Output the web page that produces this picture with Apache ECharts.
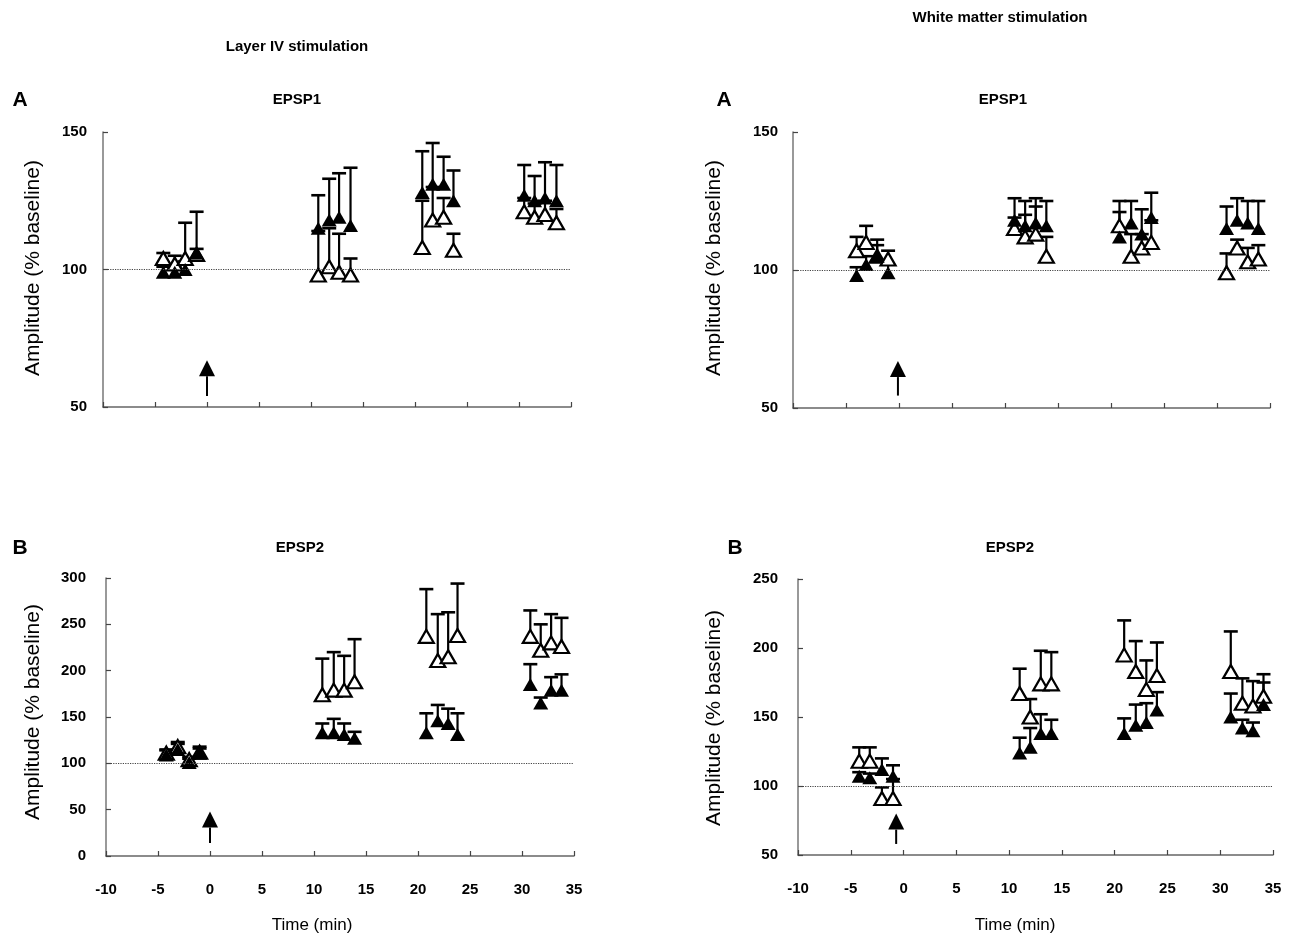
<!DOCTYPE html>
<html>
<head>
<meta charset="utf-8">
<script src="https://cdn.jsdelivr.net/npm/echarts@6/dist/echarts.min.js"></script>
<style>
  html, body { margin: 0; padding: 0; background: #fff; }
  #chart { width: 1289px; height: 940px; }
</style>
</head>
<body>
<div id="chart"></div>
<script>
// Layer IV stimulation, EPSP1
const l4e1Time = [-4.2, -3.1, -2.1, -1.0, 10.7, 11.75, 12.7, 13.8, 20.7, 21.7, 22.75, 23.7, 30.5, 31.5, 32.5, 33.6];
const l4e1Filled = [99, 99, 100, 106, 115, 118, 119, 116, 128, 131, 131, 125, 127, 125, 126, 125];
const l4e1FilledErr = [2, 2, 3, 15, 12, 15, 16, 21, 15, 15, 10, 11, 11, 9, 13, 13];
const l4e1Open = [104, 102, 104, 105.5, 98, 101, 99, 98, 108, 118, 119, 107, 121, 119, 120, 117];
const l4e1OpenErr = [2, 3, 13, 2, 16, 14, 14, 6, 17, 12, 7, 6, 5, 5, 5, 5];
const l4e1Arrow = [0, 67, 54];

// White matter stimulation, EPSP1
const wmE1Time = [-4.0, -3.1, -2.06, -1.03, 10.9, 11.9, 12.9, 13.9, 20.8, 21.9, 22.9, 23.8, 30.9, 31.9, 32.9, 33.9];
const wmE1Filled = [98, 102, 105, 99, 118, 116, 117, 116, 112, 117, 113, 119, 115, 118, 117, 115];
const wmE1FilledErr = [3, 3, 6, 3, 8, 9, 9, 9, 9, 8, 9, 9, 8, 8, 8, 10];
const wmE1Open = [107, 110, 105, 104, 115, 112, 113, 105, 116, 105, 108, 110, 99, 108, 103, 104];
const wmE1OpenErr = [5, 6, 4, 3, 4, 8, 10, 7, 9, 8, 5, 8, 7, 3, 5, 5];
const wmE1Arrow = [-0.1, 67, 54.5];

// Layer IV stimulation, EPSP2
const l4e2Time = [-4.2, -3.1, -2.0, -1.0, 10.8, 11.9, 12.9, 13.9, 20.8, 21.9, 22.9, 23.8, 30.8, 31.8, 32.8, 33.8];
const l4e2Filled = [109, 115, 101, 111, 133, 133, 131, 127, 133, 146, 143, 131, 185, 165, 179, 179];
const l4e2FilledErr = [5, 6, 4, 7, 10, 15, 12, 7, 21, 17, 16, 23, 22, 6, 14, 17];
const l4e2Open = [111, 118, 104, 112, 174, 179, 179, 188, 237, 211, 215, 238, 237, 222, 230, 226];
const l4e2OpenErr = [4, 5, 3, 4, 39, 41, 37, 46, 51, 50, 48, 56, 28, 28, 31, 31];
const l4e2Arrow = [0, 48, 14];

// White matter stimulation, EPSP2
const wmE2Time = [-4.2, -3.2, -2.05, -1.0, 11.0, 12.0, 13.0, 14.0, 20.9, 22.0, 23.0, 24.0, 31.0, 32.1, 33.1, 34.1];
const wmE2Filled = [107, 106, 112, 107, 124, 128, 138, 138, 138, 144, 146, 155, 150, 142, 140, 159];
const wmE2FilledErr = [3, 3, 8, 8, 11, 14, 14, 10, 11, 15, 14, 13, 17, 6, 6, 16];
const wmE2Open = [118, 118, 91, 91, 167, 150, 174, 174, 195, 183, 170, 180, 183, 160, 158, 165];
const wmE2OpenErr = [10, 10, 8, 14, 18, 13, 24, 23, 25, 22, 21, 24, 29, 18, 18, 16];
const wmE2Arrow = [-0.7, 80, 58];

const baseline = 100;
const font = "'Liberation Sans', Arial, sans-serif";

const panels = [
  { grid: { left: 103, top: 132, width: 468, height: 275 }, yMin: 50, yMax: 150, xLabels: false,
    time: l4e1Time, filled: l4e1Filled, filledErr: l4e1FilledErr, open: l4e1Open, openErr: l4e1OpenErr, arrow: l4e1Arrow, labelMargin: 16 },
  { grid: { left: 793, top: 132, width: 477, height: 276 }, yMin: 50, yMax: 150, xLabels: false,
    time: wmE1Time, filled: wmE1Filled, filledErr: wmE1FilledErr, open: wmE1Open, openErr: wmE1OpenErr, arrow: wmE1Arrow, labelMargin: 15 },
  { grid: { left: 106, top: 578, width: 468, height: 278 }, yMin: 0, yMax: 300, xLabels: true,
    time: l4e2Time, filled: l4e2Filled, filledErr: l4e2FilledErr, open: l4e2Open, openErr: l4e2OpenErr, arrow: l4e2Arrow, labelMargin: 20 },
  { grid: { left: 798, top: 579, width: 475, height: 276 }, yMin: 50, yMax: 250, xLabels: true,
    time: wmE2Time, filled: wmE2Filled, filledErr: wmE2FilledErr, open: wmE2Open, openErr: wmE2OpenErr, arrow: wmE2Arrow, labelMargin: 20 }
];

function renderErr(params, api) {
  const lo = api.coord([api.value(0), api.value(1)]);
  const hi = api.coord([api.value(0), api.value(2)]);
  const w = 7;
  return {
    type: 'group',
    children: [
      { type: 'line', shape: { x1: lo[0], y1: lo[1], x2: hi[0], y2: hi[1] }, style: { stroke: '#000', lineWidth: 2.2 } },
      { type: 'line', shape: { x1: hi[0] - w, y1: hi[1], x2: hi[0] + w, y2: hi[1] }, style: { stroke: '#000', lineWidth: 2.6 } }
    ]
  };
}

function renderArrow(params, api) {
  const tip = api.coord([api.value(0), api.value(1)]);
  const base = api.coord([api.value(0), api.value(2)]);
  const hw = 8, hh = 16;
  return {
    type: 'group',
    children: [
      { type: 'line', shape: { x1: base[0], y1: base[1], x2: tip[0], y2: tip[1] + hh }, style: { stroke: '#000', lineWidth: 2 } },
      { type: 'polygon', shape: { points: [[tip[0], tip[1]], [tip[0] - hw, tip[1] + hh], [tip[0] + hw, tip[1] + hh]] }, style: { fill: '#000' } }
    ]
  };
}

const grid = [], xAxis = [], yAxis = [], series = [];

panels.forEach((p, i) => {
  grid.push(p.grid);
  xAxis.push({
    gridIndex: i, type: 'value', min: -10, max: 35, interval: 5,
    axisLine: { onZero: false, lineStyle: { color: '#666', width: 1.5 } },
    axisTick: { inside: true, length: 5, lineStyle: { color: '#444', width: 1.2 } },
    axisLabel: { show: p.xLabels, margin: 26, color: '#000', fontFamily: font, fontWeight: 'bold', fontSize: 15 },
    splitLine: { show: false }
  });
  yAxis.push({
    gridIndex: i, type: 'value', min: p.yMin, max: p.yMax, interval: 50,
    axisLine: { show: true, onZero: false, lineStyle: { color: '#777', width: 1.5 } },
    axisTick: { show: true, inside: true, length: 5, lineStyle: { color: '#444', width: 1.2 } },
    axisLabel: { margin: p.labelMargin, color: '#000', fontFamily: font, fontWeight: 'bold', fontSize: 15 },
    splitLine: { show: false }
  });

  const errData = (vals, errs) => vals.map((v, k) => [p.time[k], v, v + errs[k]]);
  series.push({
    type: 'custom', xAxisIndex: i, yAxisIndex: i, z: 2, silent: true,
    renderItem: renderErr, encode: { x: 0, y: [1, 2] },
    data: errData(p.open, p.openErr)
  });
  series.push({
    type: 'custom', xAxisIndex: i, yAxisIndex: i, z: 2, silent: true,
    renderItem: renderErr, encode: { x: 0, y: [1, 2] },
    data: errData(p.filled, p.filledErr)
  });
  series.push({
    type: 'scatter', xAxisIndex: i, yAxisIndex: i, z: 3,
    symbol: 'triangle', symbolSize: [15, 13],
    itemStyle: { color: '#fff', borderColor: '#000', borderWidth: 2.2, opacity: 1 },
    data: p.open.map((v, k) => [p.time[k], v])
  });
  series.push({
    type: 'scatter', xAxisIndex: i, yAxisIndex: i, z: 4,
    symbol: 'triangle', symbolSize: [15, 13],
    itemStyle: { color: '#000', opacity: 1 },
    data: p.filled.map((v, k) => [p.time[k], v]),
    markLine: {
      silent: true, symbol: 'none', label: { show: false },
      lineStyle: { color: '#444', type: 'dotted', width: 1.2 },
      data: [{ yAxis: baseline }]
    }
  });
  series.push({
    type: 'custom', xAxisIndex: i, yAxisIndex: i, z: 5, silent: true,
    renderItem: renderArrow, encode: { x: 0, y: [1, 2] },
    data: [p.arrow]
  });
});

const textStyle = (txt, size, weight) => ({ text: txt, fontFamily: font, fontSize: size, fontWeight: weight, fill: '#000', align: 'center', verticalAlign: 'middle' });
const yName = 'Amplitude (% baseline)';

const graphic = [
  { type: 'text', x: 297, y: 47, style: textStyle('Layer IV stimulation', 15, 'bold') },
  { type: 'text', x: 1000, y: 18, style: textStyle('White matter stimulation', 15, 'bold') },
  { type: 'text', x: 20, y: 100, style: textStyle('A', 21, 'bold') },
  { type: 'text', x: 724, y: 100, style: textStyle('A', 21, 'bold') },
  { type: 'text', x: 297, y: 100, style: textStyle('EPSP1', 15, 'bold') },
  { type: 'text', x: 1003, y: 100, style: textStyle('EPSP1', 15, 'bold') },
  { type: 'text', x: 20, y: 548, style: textStyle('B', 21, 'bold') },
  { type: 'text', x: 735, y: 548, style: textStyle('B', 21, 'bold') },
  { type: 'text', x: 300, y: 548, style: textStyle('EPSP2', 15, 'bold') },
  { type: 'text', x: 1010, y: 548, style: textStyle('EPSP2', 15, 'bold') },
  { type: 'text', x: 33, y: 268, rotation: Math.PI / 2, style: textStyle(yName, 21, 'normal') },
  { type: 'text', x: 33, y: 712, rotation: Math.PI / 2, style: textStyle(yName, 21, 'normal') },
  { type: 'text', x: 714, y: 268, rotation: Math.PI / 2, style: textStyle(yName, 21, 'normal') },
  { type: 'text', x: 714, y: 718, rotation: Math.PI / 2, style: textStyle(yName, 21, 'normal') },
  { type: 'text', x: 312, y: 925, style: textStyle('Time (min)', 17, 'normal') },
  { type: 'text', x: 1015, y: 925, style: textStyle('Time (min)', 17, 'normal') }
];

const chart = echarts.init(document.getElementById('chart'));
chart.setOption({
  animation: false,
  backgroundColor: '#fff',
  grid: grid,
  xAxis: xAxis,
  yAxis: yAxis,
  series: series,
  graphic: graphic
});
</script>
</body>
</html>
